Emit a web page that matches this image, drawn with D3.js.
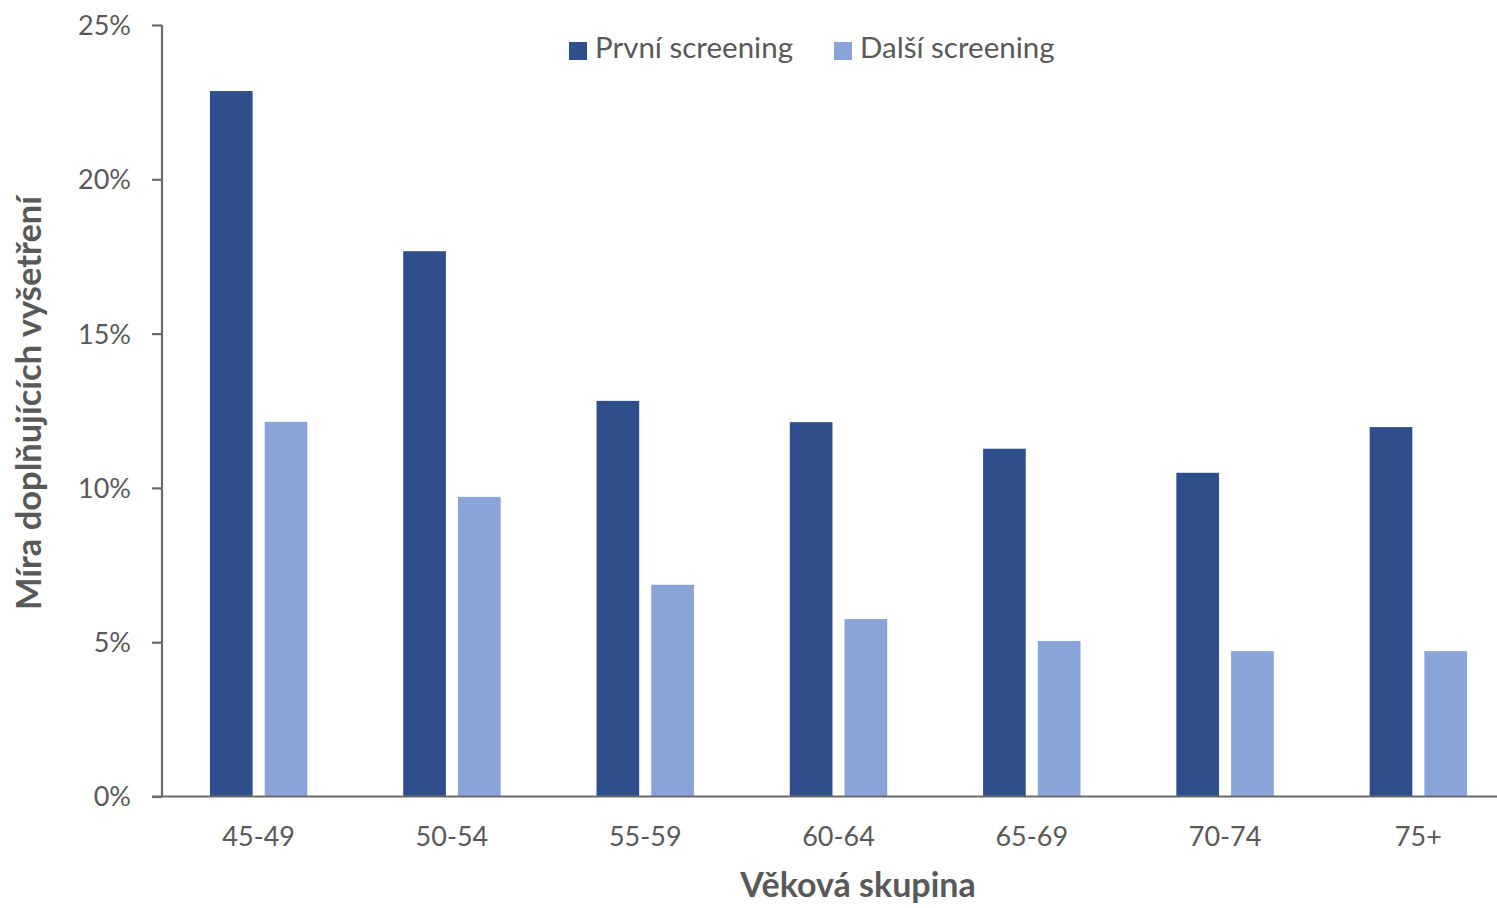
<!DOCTYPE html>
<html><head><meta charset="utf-8">
<script src="https://cdn.jsdelivr.net/npm/d3@7"></script>
<style>
html,body{margin:0;padding:0;background:#fff;}
svg{display:block;font-family:Lato,"Open Sans",sans-serif;}
</style></head>
<body>
<svg id="chart" width="1497" height="908"></svg>
<script>
const categories = ["45-49","50-54","55-59","60-64","65-69","70-74","75+"];
const seriesNames = ["První screening","Další screening"];
const prvniValues = [0.2286,0.1767,0.1282,0.1213,0.1127,0.1049,0.1197];
const dalsiValues = [0.1214,0.0971,0.0686,0.0575,0.0504,0.0471,0.0471];
const yTicks = [0,0.05,0.10,0.15,0.20,0.25];
const colors = ["#2E4E8C","#8AA3D9"];
const xTitle = "Věková skupina";
const yTitle = "Míra doplňujících vyšetření";

(function(){
const svg = d3.select("#chart");
const textColor = "#595959";
const axisColor = "#6b6b6b";
const pLeft = 162, pRight = 1515, pTop = 25, pBottom = 796.5;

const x0 = d3.scaleBand().domain(categories).range([pLeft, pRight]).paddingInner(0.496).paddingOuter(0.248);
const x1 = d3.scaleBand().domain(seriesNames).range([0, x0.bandwidth()]).paddingInner(0.22);
const y = d3.scaleLinear().domain([0,0.25]).range([pBottom, pTop]);

const data = categories.map((c,i)=>({cat:c, vals:[prvniValues[i], dalsiValues[i]]}));

const g = svg.append("g");
data.forEach(d=>{
  d.vals.forEach((v,j)=>{
    g.append("rect")
      .attr("x", x0(d.cat) + x1(seriesNames[j]))
      .attr("y", y(v))
      .attr("width", x1.bandwidth())
      .attr("height", y(0) - y(v))
      .attr("fill", colors[j]);
  });
});

const yAxis = d3.axisLeft(y).tickValues(yTicks).tickSize(10).tickPadding(21)
  .tickFormat(d=>d3.format(".0%")(d));
const yg = svg.append("g").attr("transform",`translate(${pLeft},0)`).call(yAxis);
yg.select(".domain").attr("stroke",axisColor).attr("stroke-width",2.2).attr("d",`M0,${pTop}V${pBottom}`);
yg.selectAll(".tick line").attr("stroke",axisColor).attr("stroke-width",2.2);
yg.selectAll(".tick text").attr("fill",textColor).attr("font-size",27).attr("font-family","Lato").attr("dy","0.35em");

const xAxis = d3.axisBottom(x0).tickSize(0).tickPadding(30);
const xg = svg.append("g").attr("transform",`translate(0,${pBottom})`).call(xAxis);
xg.select(".domain").attr("stroke",axisColor).attr("stroke-width",2.2).attr("d",`M${pLeft-10},0H1497`);
xg.selectAll(".tick text").attr("fill",textColor).attr("font-size",27).attr("font-family","Lato").attr("dy","0.71em");

svg.append("text").attr("x",858).attr("y",897).attr("text-anchor","middle")
  .attr("font-weight","bold").attr("font-size",34).attr("fill",textColor).text(xTitle);
svg.append("text").attr("transform","translate(41,403) rotate(-90)").attr("text-anchor","middle")
  .attr("font-weight","bold").attr("font-size",34.5).attr("fill",textColor).text(yTitle);

const legendX = [569, 834];
seriesNames.forEach((s,j)=>{
  const lg = svg.append("g").attr("transform",`translate(${legendX[j]},0)`);
  lg.append("rect").attr("x",0).attr("y",42).attr("width",18).attr("height",18).attr("fill",colors[j]);
  lg.append("text").attr("x",26).attr("y",58).attr("font-size",29.5).attr("fill",textColor).text(s);
});
})();
</script>
</body></html>
